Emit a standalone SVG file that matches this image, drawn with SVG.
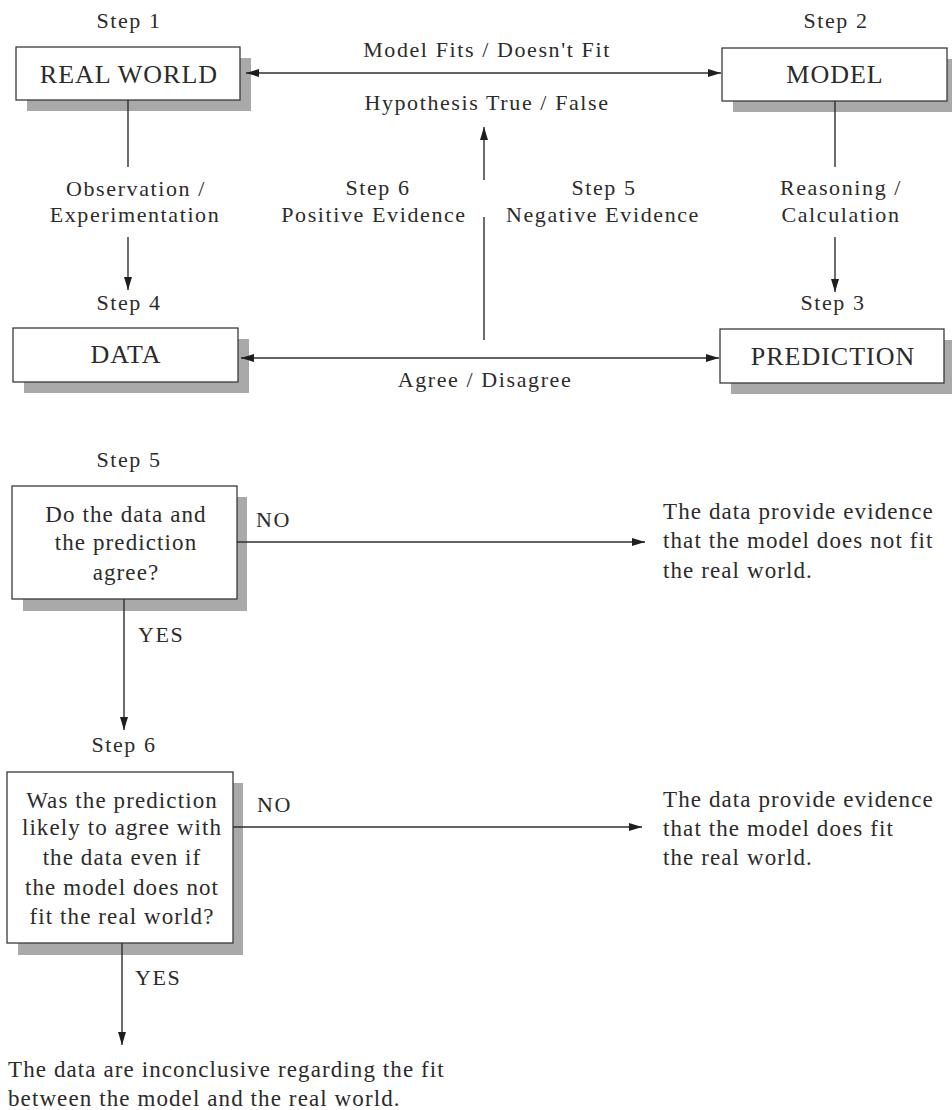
<svg xmlns="http://www.w3.org/2000/svg" width="952" height="1110" viewBox="0 0 952 1110">
<style>
text{font-family:"Liberation Serif","Times New Roman",serif;fill:#2b2b2b}
.lbl{font-size:22px;letter-spacing:1.6px}
.mid{text-anchor:middle}
.cap{font-size:26px;letter-spacing:1px;text-anchor:middle}
.body{font-size:23px;letter-spacing:1.1px}
.box{fill:#fff;stroke:#3a3a3a;stroke-width:1.3}
.shadow{fill:#a9a9a9}
.conn line{stroke:#2e2e2e;stroke-width:1.4;fill:none}
</style>
<defs>
<marker id="arr" markerUnits="userSpaceOnUse" markerWidth="14" markerHeight="10" refX="13" refY="5" orient="auto-start-reverse">
<path d="M0,1 L13,5 L0,9 z" fill="#1e1e1e"/>
</marker>
</defs>
<rect width="952" height="1110" fill="#fff"/>

<g id="real-world">
<text class="lbl mid" x="129" y="28">Step 1</text>
<rect class="shadow" x="27" y="58" width="224" height="53"/>
<rect class="box" x="16" y="47" width="224" height="53"/>
<text class="cap" x="129" y="83">REAL WORLD</text>
</g>

<g id="model">
<text class="lbl mid" x="836" y="28">Step 2</text>
<rect class="shadow" x="733" y="59" width="225" height="53"/>
<rect class="box" x="722" y="48" width="225" height="53"/>
<text class="cap" x="835" y="83">MODEL</text>
</g>

<g id="data">
<text class="lbl mid" x="129" y="310">Step 4</text>
<rect class="shadow" x="24" y="339" width="225" height="54"/>
<rect class="box" x="13" y="328" width="225" height="54"/>
<text class="cap" x="126" y="363">DATA</text>
</g>

<g id="prediction">
<text class="lbl mid" x="833" y="310">Step 3</text>
<rect class="shadow" x="731" y="340" width="224" height="54"/>
<rect class="box" x="720" y="329" width="224" height="54"/>
<text class="cap" x="833" y="365">PREDICTION</text>
</g>

<g id="step5-question">
<text class="lbl mid" x="129" y="467">Step 5</text>
<rect class="shadow" x="23" y="497" width="224" height="114"/>
<rect class="box" x="12" y="486" width="225" height="113"/>
<text class="body mid" x="126" y="522">Do the data and</text>
<text class="body mid" x="126" y="550">the prediction</text>
<text class="body mid" x="126" y="580">agree?</text>
</g>

<g id="step5-no-result">
<text class="body" x="663" y="519">The data provide evidence</text>
<text class="body" x="663" y="548">that the model does not fit</text>
<text class="body" x="663" y="578">the real world.</text>
</g>

<g id="step6-question">
<text class="lbl mid" x="124" y="752">Step 6</text>
<rect class="shadow" x="18" y="783" width="225" height="172"/>
<rect class="box" x="7" y="772" width="226" height="171"/>
<text class="body mid" x="122" y="808">Was the prediction</text>
<text class="body mid" x="122" y="835">likely to agree with</text>
<text class="body mid" x="122" y="865">the data even if</text>
<text class="body mid" x="122" y="895">the model does not</text>
<text class="body mid" x="122" y="924">fit the real world?</text>
</g>

<g id="step6-no-result">
<text class="body" x="663" y="807">The data provide evidence</text>
<text class="body" x="663" y="836">that the model does fit</text>
<text class="body" x="663" y="865">the real world.</text>
</g>

<g id="step6-yes-result">
<text class="body" x="8" y="1077">The data are inconclusive regarding the fit</text>
<text class="body" x="8" y="1106">between the model and the real world.</text>
</g>

<g id="connectors" class="conn">
<line x1="246" y1="73" x2="721" y2="73" marker-start="url(#arr)" marker-end="url(#arr)"/>
<line x1="128" y1="100" x2="128" y2="167"/>
<line x1="128" y1="237" x2="128" y2="290" marker-end="url(#arr)"/>
<line x1="835" y1="101" x2="835" y2="167"/>
<line x1="835" y1="237" x2="835" y2="292" marker-end="url(#arr)"/>
<line x1="241" y1="358" x2="719" y2="358" marker-start="url(#arr)" marker-end="url(#arr)"/>
<line x1="484" y1="180" x2="484" y2="127" marker-end="url(#arr)"/>
<line x1="484" y1="340" x2="484" y2="217"/>
<line x1="237" y1="542" x2="645" y2="542" marker-end="url(#arr)"/>
<line x1="124" y1="599" x2="124" y2="730" marker-end="url(#arr)"/>
<line x1="233" y1="827" x2="642" y2="827" marker-end="url(#arr)"/>
<line x1="122" y1="943" x2="122" y2="1045" marker-end="url(#arr)"/>
</g>

<g id="connector-labels">
<text class="lbl mid" x="487" y="57">Model Fits / Doesn't Fit</text>
<text class="lbl mid" x="487" y="110">Hypothesis True / False</text>
<text class="lbl mid" x="136" y="196">Observation /</text>
<text class="lbl mid" x="135" y="222">Experimentation</text>
<text class="lbl mid" x="378" y="195">Step 6</text>
<text class="lbl mid" x="374" y="222">Positive Evidence</text>
<text class="lbl mid" x="604" y="195">Step 5</text>
<text class="lbl mid" x="603" y="222">Negative Evidence</text>
<text class="lbl mid" x="841" y="195">Reasoning /</text>
<text class="lbl mid" x="841" y="222">Calculation</text>
<text class="lbl mid" x="485" y="387">Agree / Disagree</text>
<text class="lbl" x="256" y="527">NO</text>
<text class="lbl" x="138" y="642">YES</text>
<text class="lbl" x="257" y="812">NO</text>
<text class="lbl" x="135" y="985">YES</text>
</g>
</svg>
